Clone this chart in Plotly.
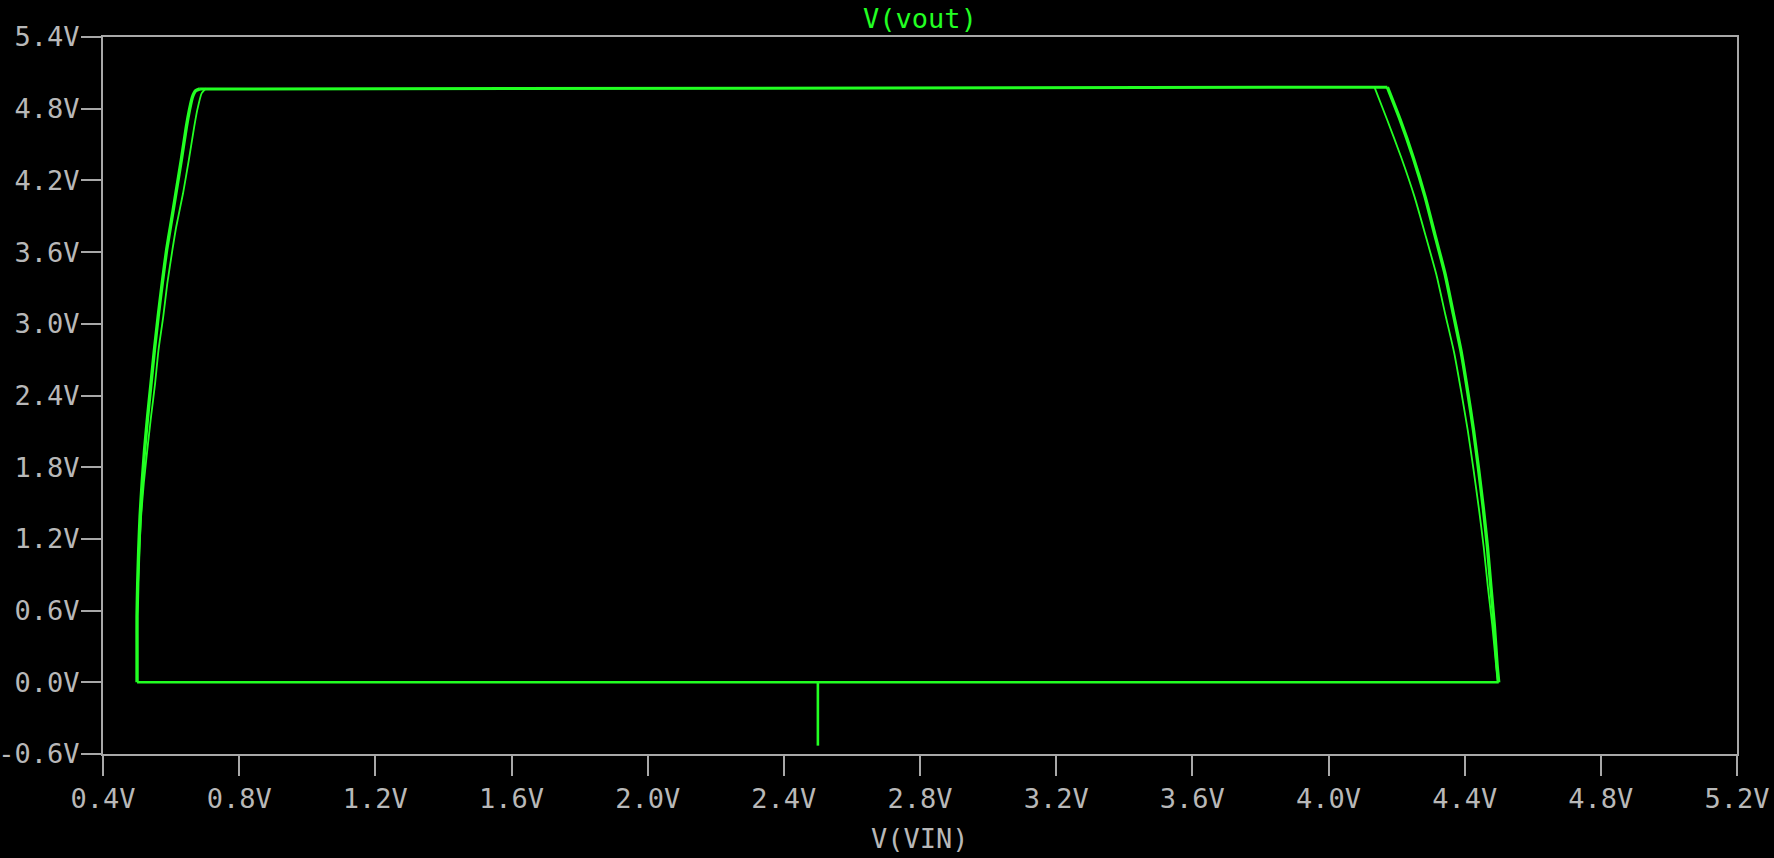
import plotly.graph_objects as go

# ---------------- data ----------------
# spike at V(VIN)=2.5V
spike_vin = [2.5, 2.5]
spike_vout = [-0.53, 0.0]

# bottom rail (V(vout)=0)
bottom_vin = [0.5, 4.5]
bottom_vout = [0.0, 0.0]

# top rail
top_vin = [0.685, 4.173]
top_vout = [4.965, 4.98]

# left rising edge, outer (thick) branch
rise_vout_a = [0.0, 0.27, 0.55, 0.83, 1.11, 1.39, 1.67, 1.94, 2.22, 2.50, 2.78,
               3.06, 3.34, 3.62, 3.81, 4.09, 4.37, 4.65, 4.79, 4.90, 4.95, 4.965]
rise_vin_a = [0.5, 0.5, 0.5, 0.502, 0.505, 0.509, 0.515, 0.522, 0.531, 0.541, 0.551,
              0.562, 0.574, 0.587, 0.598, 0.614, 0.630, 0.645, 0.654, 0.663, 0.672, 0.685]

# left rising edge, inner (thin) branch
rise_vout_b = [0.55, 0.83, 1.11, 1.39, 1.67, 1.94, 2.22, 2.50, 2.78, 3.06, 3.34,
               3.62, 3.81, 4.09, 4.37, 4.65, 4.79, 4.93, 4.97]
rise_vin_b = [0.5, 0.503, 0.507, 0.512, 0.520, 0.530, 0.541, 0.553, 0.563, 0.577, 0.589,
              0.604, 0.615, 0.635, 0.652, 0.668, 0.677, 0.690, 0.703]

# falling edge, outer (thick) branch
fall_vout_a = [4.98, 4.71, 4.39, 4.06, 3.74, 3.41, 3.08, 2.76, 2.43, 2.11, 1.78,
               1.45, 1.13, 0.80, 0.48, 0.15, 0.0]
fall_vin_a = [4.173, 4.210, 4.249, 4.284, 4.313, 4.343, 4.367, 4.390, 4.409, 4.426, 4.441,
              4.455, 4.467, 4.477, 4.487, 4.495, 4.5]

# falling edge, inner (thin) branch
fall_vout_b = [4.98, 4.71, 4.39, 4.06, 3.74, 3.41, 3.08, 2.76, 2.43, 2.11, 1.78,
               1.45, 1.13, 0.80, 0.48, 0.15, 0.0]
fall_vin_b = [4.135, 4.172, 4.214, 4.253, 4.285, 4.317, 4.343, 4.369, 4.390, 4.409, 4.426,
              4.442, 4.456, 4.468, 4.481, 4.492, 4.497]

# axis ticks
x_ticks = [0.4, 0.8, 1.2, 1.6, 2.0, 2.4, 2.8, 3.2, 3.6, 4.0, 4.4, 4.8, 5.2]
x_labels = ["0.4V", "0.8V", "1.2V", "1.6V", "2.0V", "2.4V", "2.8V", "3.2V",
            "3.6V", "4.0V", "4.4V", "4.8V", "5.2V"]
y_ticks = [-0.6, 0.0, 0.6, 1.2, 1.8, 2.4, 3.0, 3.6, 4.2, 4.8, 5.4]
y_labels = ["-0.6V", "0.0V", "0.6V", "1.2V", "1.8V", "2.4V", "3.0V", "3.6V",
            "4.2V", "4.8V", "5.4V"]

# ---------------- figure ----------------
GREEN = "#22ff22"
AXIS = "#a8a8a8"
TEXT = "#b8b8b8"
FONT = "DejaVu Sans Mono"
FSIZE = 27

fig = go.Figure()
common = dict(mode="lines", hoverinfo="skip", showlegend=False)
fig.add_trace(go.Scatter(x=bottom_vin, y=bottom_vout,
                         line=dict(color=GREEN, width=2.6), **common))
fig.add_trace(go.Scatter(x=spike_vin, y=spike_vout,
                         line=dict(color=GREEN, width=2.6), **common))
fig.add_trace(go.Scatter(x=top_vin, y=top_vout,
                         line=dict(color=GREEN, width=3), **common))
fig.add_trace(go.Scatter(x=rise_vin_a, y=rise_vout_a,
                         line=dict(color=GREEN, width=3.4, shape="spline", smoothing=0.5),
                         **common))
fig.add_trace(go.Scatter(x=fall_vin_a, y=fall_vout_a,
                         line=dict(color=GREEN, width=3.4, shape="spline", smoothing=0.5),
                         **common))
fig.add_trace(go.Scatter(x=rise_vin_b, y=rise_vout_b,
                         line=dict(color=GREEN, width=1.8, shape="spline", smoothing=0.5),
                         **common))
fig.add_trace(go.Scatter(x=fall_vin_b, y=fall_vout_b,
                         line=dict(color=GREEN, width=1.8, shape="spline", smoothing=0.5),
                         **common))

axis_common = dict(
    showline=True, linecolor=AXIS, linewidth=2, mirror=True,
    ticks="outside", ticklen=20, tickwidth=2, tickcolor=AXIS,
    showgrid=False, zeroline=False, automargin=False,
    tickfont=dict(family=FONT, size=FSIZE, color=TEXT),
    tickmode="array",
)

fig.update_layout(
    width=1774, height=858,
    margin=dict(l=103, r=37, t=37, b=104),
    paper_bgcolor="black", plot_bgcolor="black",
    title=dict(text="V(vout)", font=dict(family=FONT, size=FSIZE, color=GREEN),
               x=0.5, xref="paper", xanchor="center",
               y=1 - 19 / 858, yref="container", yanchor="middle"),
    xaxis=dict(range=[0.4, 5.2], tickvals=x_ticks, ticktext=x_labels, **axis_common),
    yaxis=dict(range=[-0.6, 5.4], tickvals=y_ticks, ticktext=y_labels,
               ticklabelstandoff=-4, **axis_common),
    annotations=[dict(text="V(VIN)", xref="paper", yref="paper", x=0.5, y=-84 / 717,
                      xanchor="center", yanchor="middle", showarrow=False,
                      font=dict(family=FONT, size=FSIZE, color=TEXT))],
)

fig.write_html("out.html", config={"displayModeBar": False})

# remove the default page margin so the figure fills the window
with open("out.html", "r", encoding="utf-8") as f:
    html = f.read()
html = html.replace("<head>", "<head><style>html,body{margin:0;padding:0;background:#000;overflow:hidden;}</style>", 1)
with open("out.html", "w", encoding="utf-8") as f:
    f.write(html)
